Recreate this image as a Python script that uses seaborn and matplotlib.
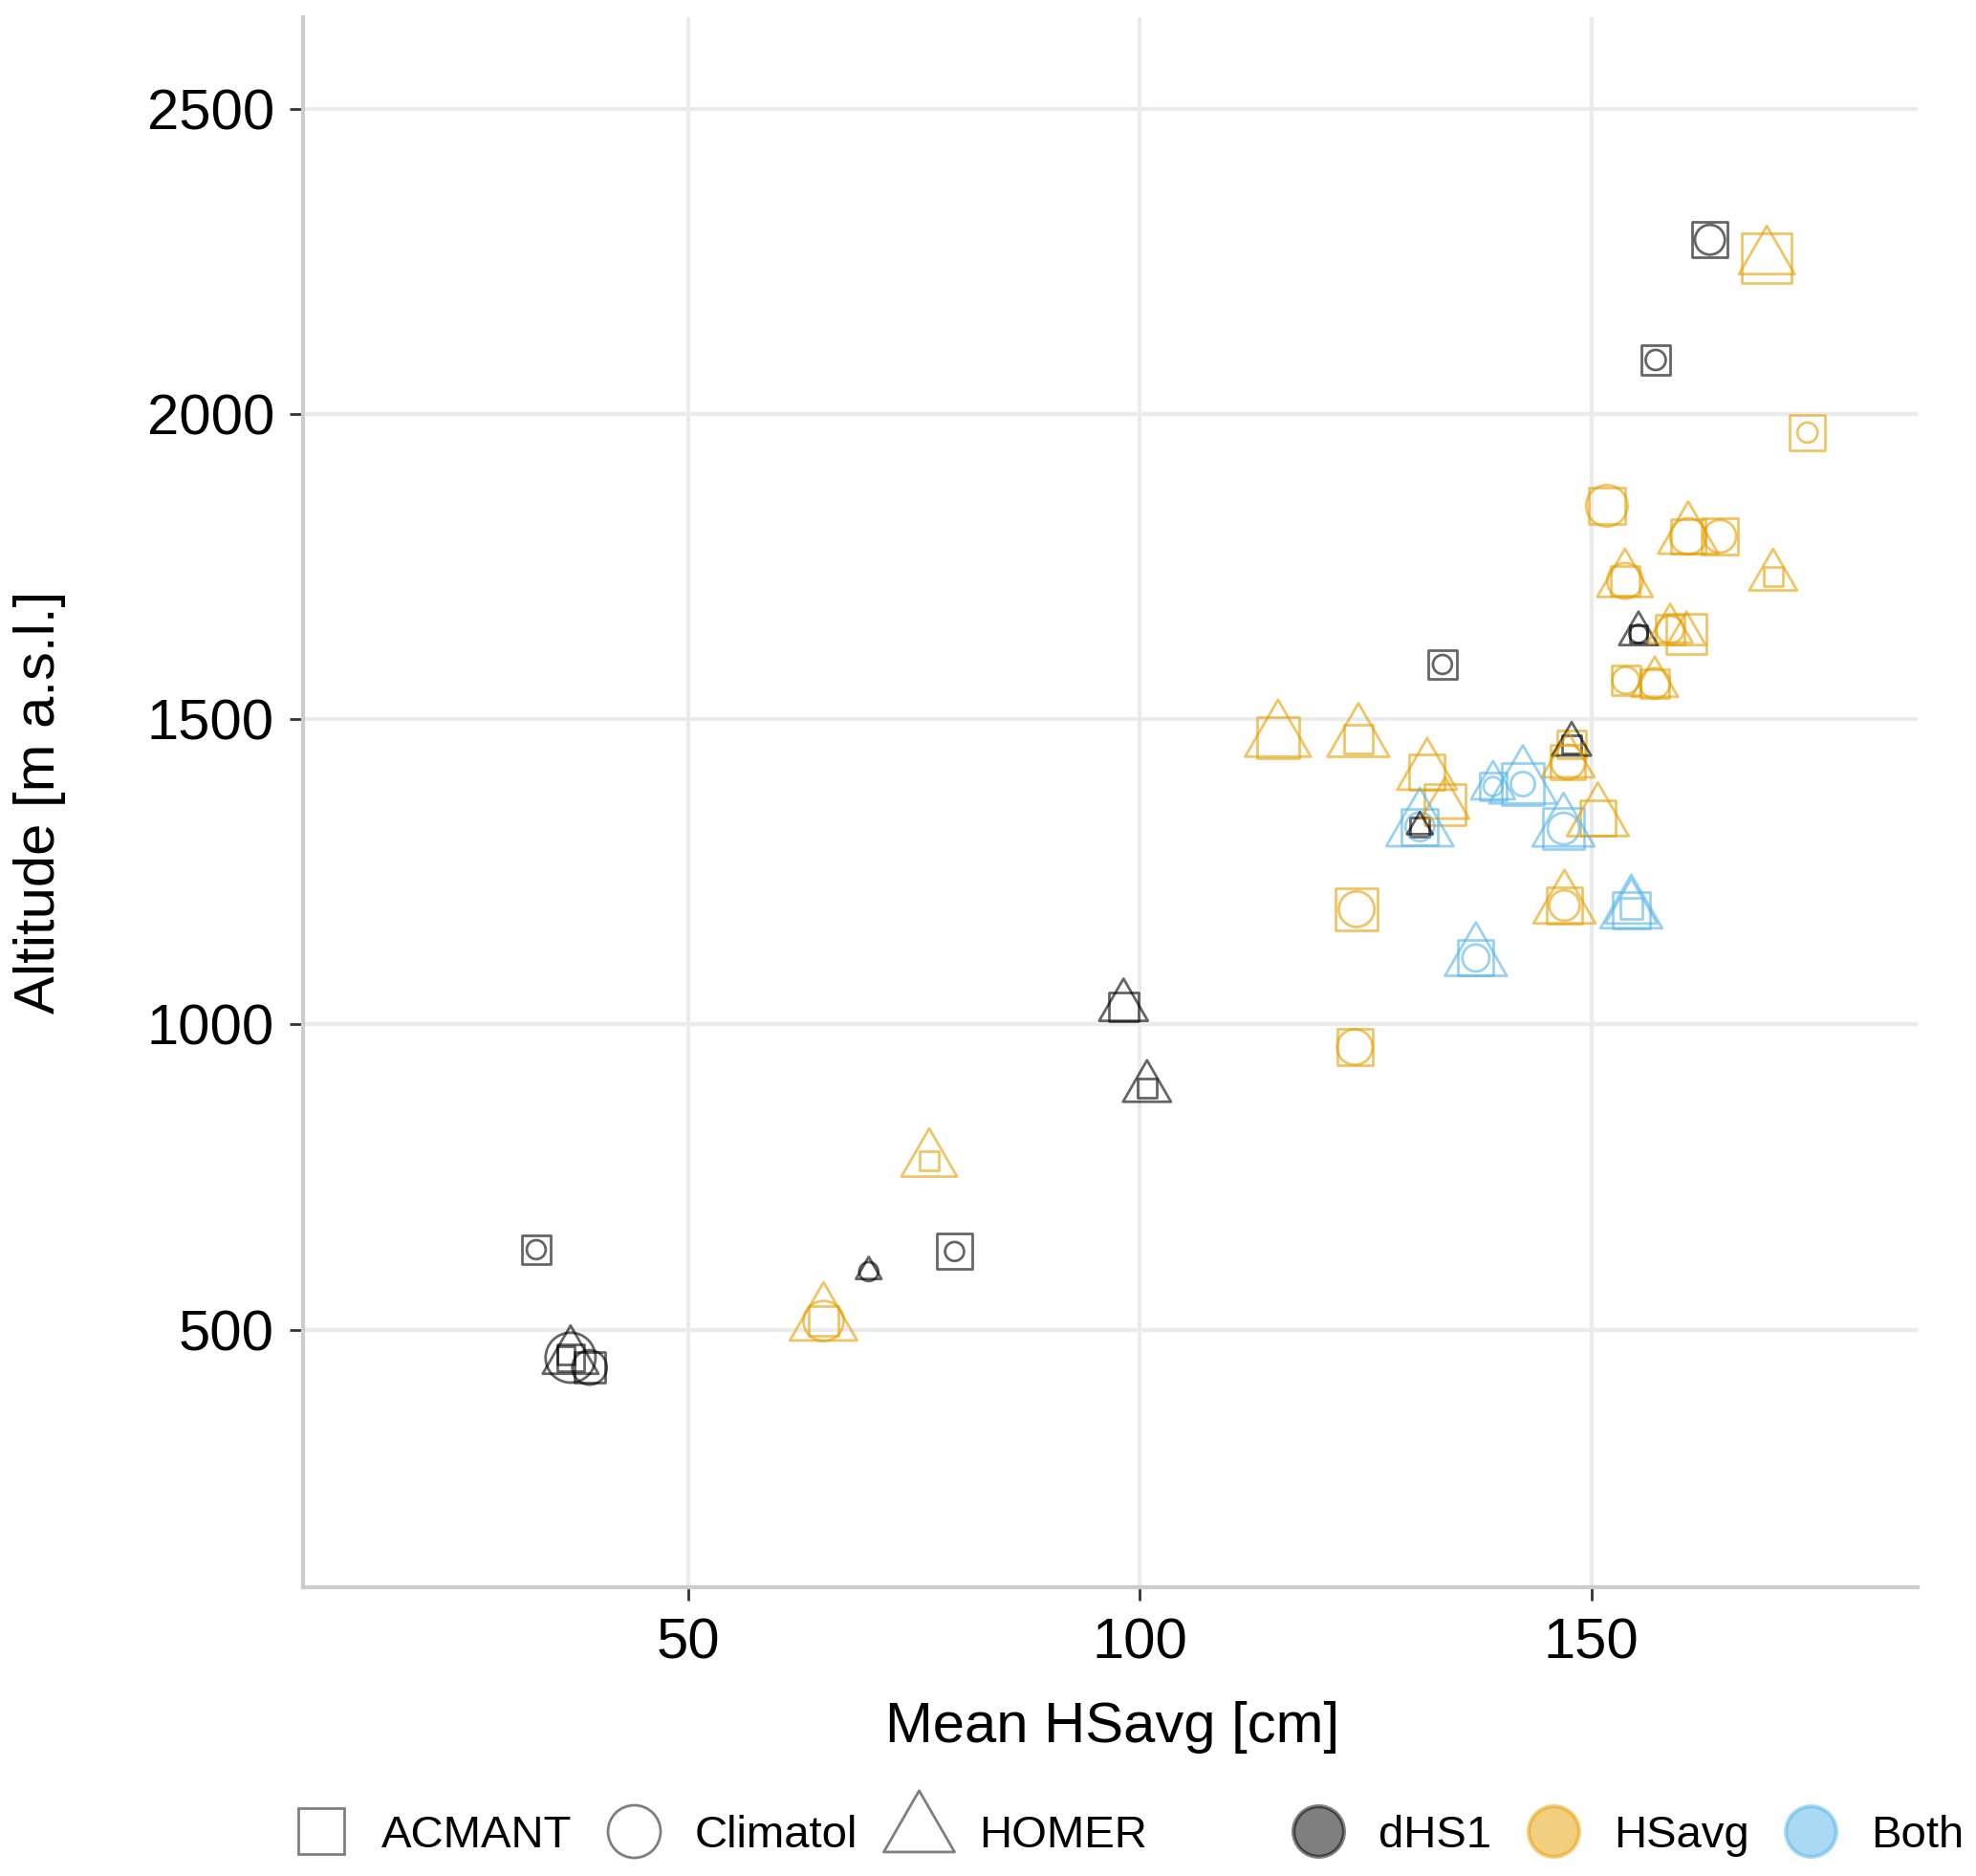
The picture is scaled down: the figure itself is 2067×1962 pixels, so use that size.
import numpy as np
import pandas as pd
import matplotlib.pyplot as plt
from matplotlib.path import Path
from matplotlib.lines import Line2D
import seaborn as sns

# Stations: mean HSavg [cm], altitude [m a.s.l.] and which series showed the breaks
hs_mean = [163.1, 169.4, 157.1, 173.9, 151.7, 160.7, 164.2, 170.1, 153.7, 155.2,
           158.7, 160.5, 133.5, 153.8, 157.0, 115.3, 124.2, 147.8, 147.8, 147.4,
           131.8, 133.8, 139.1, 142.4, 150.7, 131.0, 131.0, 146.9, 124.0, 147.0,
           154.4, 154.4, 137.2, 123.8, 98.2, 100.8, 76.7, 70.0, 79.5, 33.2,
           65.0, 37.0, 36.5, 39.1]
altitude = [2286, 2256, 2089, 1970, 1850, 1800, 1800, 1734, 1727, 1640,
            1647, 1640, 1590, 1564, 1559, 1470, 1468, 1459, 1459, 1430,
            1413, 1360, 1390, 1394, 1338, 1324, 1324, 1321, 1189, 1195,
            1187, 1190, 1109, 963, 1029, 896, 777, 595, 628, 631,
            514, 454, 458, 438]
detected = ['dHS1', 'HSavg', 'dHS1', 'HSavg', 'HSavg', 'HSavg', 'HSavg', 'HSavg', 'HSavg', 'dHS1',
            'HSavg', 'HSavg', 'dHS1', 'HSavg', 'HSavg', 'HSavg', 'HSavg', 'dHS1', 'HSavg', 'HSavg',
            'HSavg', 'HSavg', 'Both', 'Both', 'HSavg', 'Both', 'dHS1', 'Both', 'HSavg', 'HSavg',
            'Both', 'Both', 'Both', 'HSavg', 'dHS1', 'dHS1', 'HSavg', 'dHS1', 'dHS1', 'dHS1',
            'HSavg', 'dHS1', 'dHS1', 'dHS1']

# symbol size per method (0 = nothing from that method)
size_acmant = [7.0, 9.8, 5.7, 7.0, 7.0, 6.8, 7.0, 3.8, 5.7, 3.3,
               5.7, 8.0, 5.5, 5.7, 5.7, 8.2, 5.7, 3.7, 5.5, 6.8,
               7.0, 8.0, 5.3, 8.2, 7.0, 7.2, 3.8, 8.2, 8.2, 7.0,
               7.2, 4.2, 7.0, 7.0, 5.8, 3.8, 3.7, 0, 7.0, 5.7,
               5.8, 5.3, 3.5, 6.0]
size_climatol = [5.2, 0, 3.5, 3.5, 7.2, 6.3, 5.7, 0, 6.2, 3.2,
                 4.8, 0, 3.3, 4.7, 5.3, 0, 0, 0, 0, 6.0,
                 0, 0, 3.3, 4.2, 0, 5.0, 0, 5.5, 6.2, 5.3,
                 0, 0, 4.7, 6.2, 0, 0, 0, 3.3, 3.3, 3.3,
                 7.0, 8.7, 0, 6.0]
size_homer = [0, 7.2, 0, 0, 0, 7.8, 0, 6.2, 7.2, 5.0,
              5.8, 5.0, 0, 0, 6.0, 8.5, 8.0, 5.0, 0, 6.8,
              7.7, 6.2, 5.7, 8.7, 8.0, 8.7, 3.3, 8.0, 0, 8.0,
              8.0, 6.7, 8.0, 0, 6.3, 6.2, 7.2, 3.3, 0, 0,
              8.7, 7.2, 0, 0]

methods = ['ACMANT', 'Climatol', 'HOMER']
groups = ['dHS1', 'HSavg', 'Both']
colors = {'dHS1': '#000000', 'HSavg': '#E69F00', 'Both': '#56B4E9'}

df = pd.DataFrame({'hs_mean': hs_mean, 'altitude': altitude, 'detected': detected,
                   'ACMANT': size_acmant, 'Climatol': size_climatol, 'HOMER': size_homer})
long = df.melt(id_vars=['hs_mean', 'altitude', 'detected'], value_vars=methods,
               var_name='method', value_name='size')
long = long[long['size'] > 0]

# R-like open symbols: square / circle / triangle of equal area
tri = Path([(0, 1.555), (1.347, -0.778), (-1.347, -0.778), (0, 1.555)],
           [Path.MOVETO, Path.LINETO, Path.LINETO, Path.CLOSEPOLY])
marker_of = {'ACMANT': 's', 'Climatol': 'o', 'HOMER': tri}
shape_scale = {'ACMANT': 0.886, 'Climatol': 1.0, 'HOMER': 1.555}
pt_per_unit = 2.16

sns.set_theme(style='ticks')
plt.rcParams['font.family'] = ['Liberation Sans', 'DejaVu Sans']
plt.rcParams['text.color'] = 'black'

fig = plt.figure(figsize=(10.335, 9.81), dpi=200)
ax = fig.add_axes([0.1534, 0.154, 0.8171, 0.8366])

for m in methods:
    sub = long[long['method'] == m]
    ms = sub['size'].to_numpy() * pt_per_unit * shape_scale[m]
    sns.scatterplot(data=sub, x='hs_mean', y='altitude', hue='detected',
                    hue_order=groups, palette=colors, marker=marker_of[m],
                    s=ms ** 2, alpha=0.6, linewidth=1.0, legend=False, ax=ax)
    pts = ax.collections[-1]
    pts.set_edgecolors(pts.get_facecolors())
    pts.set_facecolors('none')

ax.set_xlim(7.4, 186.1)
ax.set_ylim(78, 2650)
ax.set_xticks([50, 100, 150])
ax.set_yticks([500, 1000, 1500, 2000, 2500])
ax.set_xlabel('')
ax.set_ylabel('')
ax.grid(True, color='#ebebeb', linewidth=1.5)
ax.set_axisbelow(True)
for s in ['top', 'right']:
    ax.spines[s].set_visible(False)
for s in ['left', 'bottom']:
    ax.spines[s].set_color('#cccccc')
    ax.spines[s].set_linewidth(1.5)
ax.tick_params(axis='both', length=5, width=1, color='#333333',
               labelsize=21.5, labelcolor='black')
ax.tick_params(axis='y', pad=5.8)
ax.tick_params(axis='x', pad=6.5)

fig.text(0.563, 0.0795, 'Mean HSavg [cm]', fontsize=21.5, color='black',
         ha='center', va='center')
fig.text(0.0203, 0.5724, 'Altitude [m a.s.l.]', fontsize=21.5, color='black',
         rotation=90, ha='center', va='center')

# legends along the bottom
shape_handles = [Line2D([], [], linestyle='none', marker=marker_of[m],
                        markersize=19.8 * shape_scale[m], markerfacecolor='none',
                        markeredgecolor=(0, 0, 0, 0.5), markeredgewidth=1.0)
                 for m in methods]
leg1 = fig.legend(shape_handles, methods, loc='center left', bbox_to_anchor=(0.1466, 0.0215),
                  ncol=3, frameon=False, fontsize=17, handlelength=1.4, handletextpad=0.64,
                  columnspacing=0.66, borderpad=0, borderaxespad=0)

color_handles = []
for g in groups:
    rgba = list(plt.matplotlib.colors.to_rgba(colors[g], 0.5))
    color_handles.append(Line2D([], [], linestyle='none', marker='o', markersize=19,
                                markerfacecolor=rgba, markeredgecolor=rgba,
                                markeredgewidth=1.5))
fig.legend(color_handles, groups, loc='center left', bbox_to_anchor=(0.6512, 0.0215),
           ncol=3, frameon=False, fontsize=17, handlelength=1.4, handletextpad=0.64,
           columnspacing=0.66, borderpad=0, borderaxespad=0)

fig.savefig('out.png', dpi=200)
